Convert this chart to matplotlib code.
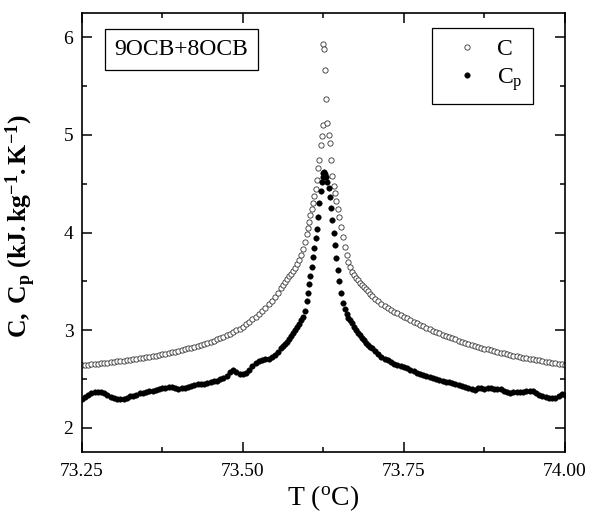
import numpy as np
import matplotlib
matplotlib.use("Agg")
import matplotlib.pyplot as plt
from matplotlib.ticker import MultipleLocator, FormatStrFormatter

plt.rcParams['font.family'] = ['Liberation Serif', 'DejaVu Serif']
plt.rcParams['mathtext.fontset'] = 'custom'
plt.rcParams['mathtext.rm'] = 'Liberation Serif'
plt.rcParams['mathtext.it'] = 'Liberation Serif:italic'
plt.rcParams['mathtext.bf'] = 'Liberation Serif:bold'

# temperature (deg C), shared by both series
T = [
    73.250, 73.255, 73.260, 73.265, 73.270, 73.275, 73.280, 73.285, 73.290, 73.295,
    73.300, 73.305, 73.310, 73.315, 73.320, 73.325, 73.330, 73.335, 73.340, 73.345,
    73.350, 73.355, 73.360, 73.365, 73.370, 73.375, 73.380, 73.385, 73.390, 73.395,
    73.400, 73.405, 73.410, 73.415, 73.420, 73.425, 73.430, 73.435, 73.440, 73.445,
    73.450, 73.455, 73.460, 73.465, 73.470, 73.475, 73.480, 73.485, 73.490, 73.495,
    73.500, 73.505, 73.510, 73.515, 73.520, 73.525, 73.530, 73.535, 73.540, 73.545,
    73.550, 73.555, 73.560,
    73.563, 73.566, 73.569, 73.572, 73.575, 73.578, 73.581, 73.584, 73.587, 73.590,
    73.593, 73.596, 73.599,
    73.601, 73.603, 73.605, 73.607, 73.609, 73.611, 73.613, 73.615, 73.617, 73.619,
    73.621, 73.623, 73.624, 73.625, 73.626, 73.627, 73.629, 73.631, 73.633, 73.635,
    73.637, 73.639, 73.641, 73.643, 73.645, 73.647, 73.649,
    73.652, 73.655, 73.658, 73.661, 73.664, 73.667, 73.670, 73.673, 73.676, 73.679,
    73.682, 73.685, 73.688, 73.691, 73.694, 73.697,
    73.700, 73.705, 73.710, 73.715, 73.720, 73.725, 73.730, 73.735, 73.740, 73.745,
    73.750, 73.755, 73.760, 73.765, 73.770, 73.775, 73.780, 73.785, 73.790, 73.795,
    73.800, 73.805, 73.810, 73.815, 73.820, 73.825, 73.830, 73.835, 73.840, 73.845,
    73.850, 73.855, 73.860, 73.865, 73.870, 73.875, 73.880, 73.885, 73.890, 73.895,
    73.900, 73.905, 73.910, 73.915, 73.920, 73.925, 73.930, 73.935, 73.940, 73.945,
    73.950, 73.955, 73.960, 73.965, 73.970, 73.975, 73.980, 73.985, 73.990, 73.995,
    74.000,
]

# C (open circles), kJ/(kg K)
C = [
    2.640, 2.643, 2.647, 2.650, 2.653, 2.657, 2.660, 2.664, 2.668, 2.672,
    2.676, 2.680, 2.684, 2.688, 2.692, 2.697, 2.702, 2.707, 2.712, 2.717,
    2.723, 2.729, 2.735, 2.741, 2.747, 2.754, 2.761, 2.768, 2.775, 2.782,
    2.790, 2.797, 2.805, 2.813, 2.821, 2.830, 2.840, 2.850, 2.860, 2.870,
    2.881, 2.893, 2.905, 2.918, 2.932, 2.947, 2.963, 2.980, 2.998, 3.017,
    3.037, 3.060, 3.084, 3.110, 3.137, 3.166, 3.197, 3.230, 3.265, 3.302,
    3.342, 3.385, 3.430,
    3.460, 3.490, 3.520, 3.550, 3.580, 3.610, 3.640, 3.680, 3.720, 3.770,
    3.830, 3.900, 3.980,
    4.05, 4.11, 4.18, 4.24, 4.30, 4.37, 4.45, 4.54, 4.66, 4.74,
    4.90, 4.99, 5.10, 5.93, 5.88, 5.66, 5.37, 5.12, 5.00, 4.92,
    4.74, 4.58, 4.48, 4.40, 4.32, 4.24, 4.16,
    4.06, 3.95, 3.85, 3.77, 3.70, 3.65, 3.60, 3.565, 3.535, 3.51,
    3.485, 3.46, 3.44, 3.42, 3.40, 3.375,
    3.350, 3.322, 3.296, 3.272, 3.250, 3.229, 3.209, 3.190, 3.172, 3.155,
    3.138, 3.121, 3.104, 3.088, 3.072, 3.056, 3.041, 3.026, 3.011, 2.996,
    2.982, 2.968, 2.955, 2.942, 2.929, 2.917, 2.905, 2.893, 2.882, 2.871,
    2.860, 2.850, 2.840, 2.830, 2.821, 2.812, 2.803, 2.794, 2.786, 2.778,
    2.770, 2.762, 2.755, 2.748, 2.741, 2.734, 2.727, 2.720, 2.714, 2.708,
    2.702, 2.696, 2.690, 2.684, 2.678, 2.672, 2.667, 2.661, 2.656, 2.651,
    2.646,
]

# Cp (filled circles), kJ/(kg K)
Cp = [
    2.30, 2.32, 2.34, 2.36, 2.37, 2.37, 2.37, 2.36, 2.34, 2.32,
    2.31, 2.30, 2.30, 2.30, 2.31, 2.33, 2.33, 2.34, 2.36, 2.36,
    2.37, 2.38, 2.38, 2.39, 2.40, 2.41, 2.41, 2.42, 2.42, 2.41,
    2.40, 2.41, 2.41, 2.42, 2.43, 2.44, 2.45, 2.45, 2.45, 2.46,
    2.47, 2.48, 2.48, 2.50, 2.51, 2.53, 2.57, 2.59, 2.57, 2.55,
    2.55, 2.56, 2.59, 2.63, 2.66, 2.68, 2.70, 2.71, 2.71, 2.73,
    2.75, 2.78, 2.82,
    2.84, 2.86, 2.88, 2.91, 2.94, 2.97, 3.00, 3.03, 3.06, 3.10,
    3.14, 3.20, 3.30,
    3.38, 3.47, 3.56, 3.65, 3.75, 3.84, 3.94, 4.04, 4.16, 4.30,
    4.42, 4.52, 4.57, 4.61, 4.62, 4.60, 4.57, 4.52, 4.46, 4.36,
    4.25, 4.13, 4.00, 3.87, 3.74, 3.62, 3.50,
    3.38, 3.28, 3.22, 3.17, 3.13, 3.10, 3.07, 3.03, 3.00, 2.97,
    2.95, 2.92, 2.90, 2.87, 2.85, 2.83,
    2.82, 2.79, 2.76, 2.73, 2.71, 2.69, 2.67, 2.655, 2.64, 2.63,
    2.62, 2.61, 2.595, 2.58, 2.565, 2.55, 2.545, 2.53, 2.52, 2.51,
    2.50, 2.49, 2.48, 2.47, 2.465, 2.455, 2.445, 2.435, 2.425, 2.415,
    2.405, 2.395, 2.39, 2.405, 2.41, 2.40, 2.405, 2.41, 2.40, 2.40,
    2.395, 2.38, 2.365, 2.36, 2.365, 2.37, 2.37, 2.37, 2.375, 2.38,
    2.38, 2.36, 2.34, 2.325, 2.315, 2.31, 2.305, 2.31, 2.33, 2.345,
    2.34,
]

fig = plt.figure(figsize=(5.89, 5.17), dpi=100)
ax = fig.add_axes([0.1387, 0.1251, 0.8206, 0.8503])

ax.plot(T, C, linestyle='none', marker='o', ms=3.8, mfc='white',
        mec='#333333', mew=0.6, label='C')
ax.plot(T, Cp, linestyle='none', marker='o', ms=4.0, mfc='black',
        mec='black', mew=0.3, label=r'C$_\mathrm{p}$')

ax.set_xlim(73.25, 74.00)
ax.set_ylim(1.75, 6.25)
ax.xaxis.set_major_locator(MultipleLocator(0.25))
ax.xaxis.set_minor_locator(MultipleLocator(0.125))
ax.xaxis.set_major_formatter(FormatStrFormatter('%.2f'))
ax.yaxis.set_major_locator(MultipleLocator(1))
ax.yaxis.set_minor_locator(MultipleLocator(0.5))

ax.tick_params(which='both', direction='in', top=True, right=True,
               width=1.1, labelsize=14)
ax.tick_params(which='major', length=7)
ax.tick_params(which='minor', length=3.6)
ax.tick_params(axis='x', pad=8)
ax.tick_params(axis='y', pad=6)
for s in ax.spines.values():
    s.set_linewidth(1.2)

ax.set_xlabel(r'T ($^\mathrm{o}$C)', fontsize=20, labelpad=2)
ax.set_ylabel(r'$\mathbf{C,\ C_p\ (kJ.kg^{-1}.K^{-1})}$', fontsize=18.5)
ax.yaxis.set_label_coords(-0.09, 0.515)

ax.text(0.2065, 0.917, '9OCB+8OCB', transform=ax.transAxes, fontsize=17,
        ha='center', va='center',
        bbox=dict(boxstyle='square,pad=0.42', fc='white', ec='black', lw=0.9))

leg = ax.legend(loc='upper right', bbox_to_anchor=(0.934, 0.965), fontsize=17,
                fancybox=False, edgecolor='black', framealpha=1,
                borderaxespad=0, handlelength=2.1, handletextpad=0.2,
                borderpad=0.45, labelspacing=0.25, markerscale=1.0)
leg.get_frame().set_linewidth(0.9)

fig.savefig('out.png', dpi=100)
